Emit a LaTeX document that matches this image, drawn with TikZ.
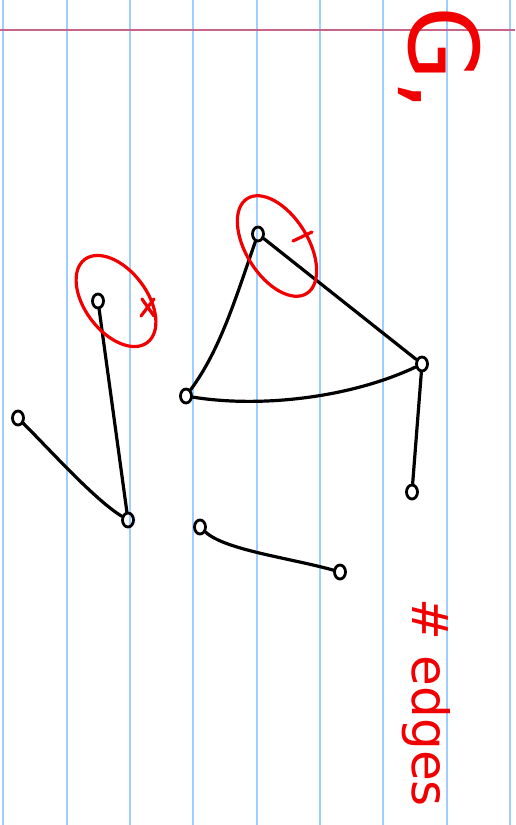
\documentclass[tikz,border=0pt]{standalone}
\usepackage{fontspec}
\setmainfont{DejaVu Sans}
\usetikzlibrary{shapes.geometric}
\definecolor{paperblue}{RGB}{160,205,255}
\definecolor{marginred}{RGB}{200,100,135}
\definecolor{ink}{RGB}{240,0,0}
\tikzset{
  vtx/.style={draw, ellipse, line width=2.8pt, minimum width=11pt, minimum height=14pt, inner sep=0pt},
  edg/.style={line width=3.2pt, line cap=round},
  rulestroke/.style={paperblue, line width=2.2pt},
  redstroke/.style={ink, line width=3.2pt, line cap=round},
  rednote/.style={ink, rotate=-90, anchor=base west, inner sep=0pt}
}
\begin{document}
\begin{tikzpicture}[x=1pt, y=-1pt]
\useasboundingbox (0,0) rectangle (515,825);
\fill[white] (0,0) rectangle (515,825);
% paper rulings
\foreach \xx in {3,67,130,193,257,320,383,447,510}
  \draw[rulestroke] (\xx,0) -- (\xx,825);
\draw[marginred, line width=2.2pt] (0,30) -- (515,30);
% vertices
\node[vtx] (a) at (98,301) {};
\node[vtx] (b) at (258,234) {};
\node[vtx] (c) at (186,396) {};
\node[vtx] (d) at (422,364) {};
\node[vtx] (e) at (412,492) {};
\node[vtx] (f) at (18,418) {};
\node[vtx] (g) at (128,520) {};
\node[vtx] (h) at (200,527) {};
\node[vtx] (i) at (340,572) {};
% edges
\draw[edg] (a) -- (g);
\draw[edg] (f) .. controls (50,450) and (95,500) .. (g);
\draw[edg] (b) .. controls (235,300) and (220,350) .. (c);
\draw[edg] (b) -- (d);
\draw[edg] (c) .. controls (260,408) and (350,398) .. (d);
\draw[edg] (d) -- (e);
\draw[edg] (h) .. controls (225,550) and (290,558) .. (i);
% red annotations
\draw[redstroke, rotate around={-53:(116,301)}] (116,301) ellipse [x radius=52pt, y radius=31pt];
\draw[redstroke] (142,299) -- (154,316);
\draw[redstroke] (141,316) -- (154,299);
\draw[redstroke, rotate around={-58:(277,246)}] (277,246) ellipse [x radius=56pt, y radius=31pt];
\draw[redstroke] (293,241) -- (312,232);
\node[rednote, font=\fontsize{96}{96}\selectfont] (gtitle) at (409,6) {G,};
\node[rednote, font=\fontsize{50}{50}\selectfont] (edges) at (412,598) {\# edges};
\end{tikzpicture}
\end{document}
